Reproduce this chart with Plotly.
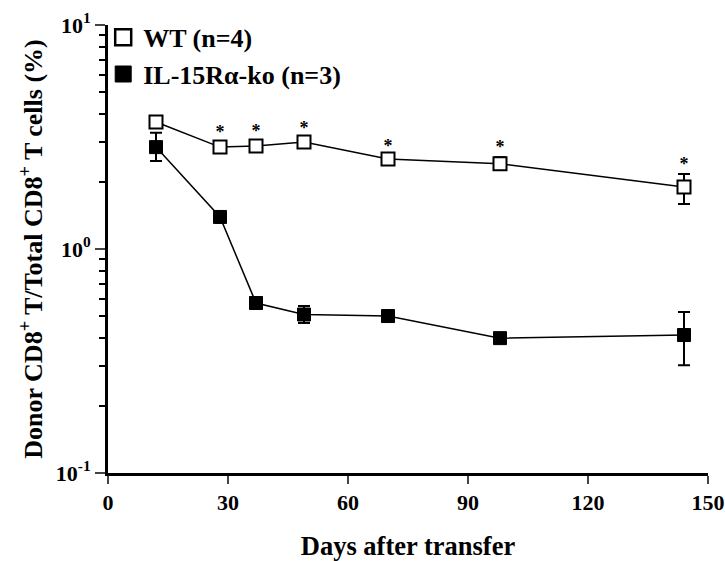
import plotly.graph_objects as go

days = [12, 28, 37, 49, 70, 98, 144]
wt_mean = [3.69, 2.85, 2.88, 3.00, 2.52, 2.40, 1.89]
wt_err_up = [0.12, 0.13, 0.13, 0.10, 0.08, 0.17, 0.27]
wt_err_dn = [0.12, 0.13, 0.13, 0.10, 0.08, 0.15, 0.30]
ko_mean = [2.85, 1.39, 0.574, 0.51, 0.502, 0.40, 0.413]
ko_err_up = [0.45, 0.05, 0.02, 0.046, 0.02, 0.02, 0.11]
ko_err_dn = [0.38, 0.05, 0.02, 0.043, 0.02, 0.02, 0.11]
sig = ["", "*", "*", "*", "*", "*", "*"]

x_ticks = [0, 30, 60, 90, 120, 150]
y_ticks = [0.1, 1, 10]
y_tick_text = ["10<sup>-1</sup>", "10<sup>0</sup>", "10<sup>1</sup>"]

wt_name = "WT (n=4)"
ko_name = "IL-15Rα-ko (n=3)"

FONT = "Liberation Serif"

fig = go.Figure()

fig.add_trace(go.Scatter(
    x=days, y=wt_mean, mode="lines+markers", showlegend=False,
    line=dict(color="black", width=1.5),
    marker=dict(symbol="square", size=13, color="white", line=dict(color="black", width=2)),
    error_y=dict(type="data", array=wt_err_up, arrayminus=wt_err_dn, color="black", thickness=2, width=6),
))
fig.add_trace(go.Scatter(
    x=days, y=ko_mean, mode="lines+markers", showlegend=False,
    line=dict(color="black", width=1.5),
    marker=dict(symbol="square", size=13, color="black", line=dict(color="black", width=1)),
    error_y=dict(type="data", array=ko_err_up, arrayminus=ko_err_dn, color="black", thickness=2, width=6),
))
# significance markers
fig.add_trace(go.Scatter(
    x=days, y=[m + e for m, e in zip(wt_mean, wt_err_up)], mode="text",
    text=["<b>" + s + "</b>" for s in sig],
    textposition="top center", showlegend=False,
    textfont=dict(family=FONT, size=18, color="#000000"),
))
# legend entries
fig.add_trace(go.Scatter(
    x=[None], y=[None], mode="markers", name="<b>" + wt_name + "</b>",
    marker=dict(symbol="square", size=16, color="white", line=dict(color="black", width=2.5)),
))
fig.add_trace(go.Scatter(
    x=[None], y=[None], mode="markers", name="<b>" + ko_name + "</b>",
    marker=dict(symbol="square", size=16, color="black", line=dict(color="black", width=1)),
))

minor_vals = [m * 10 ** d for d in (-1, 0) for m in range(2, 10)]

fig.update_layout(
    width=725, height=561,
    margin=dict(l=108, r=17, t=25, b=88),
    plot_bgcolor="white", paper_bgcolor="white",
    font=dict(family=FONT, color="black"),
    showlegend=True,
    legend=dict(x=-0.008, y=1.025, xanchor="left", yanchor="top", bgcolor="rgba(0,0,0,0)",
                font=dict(family=FONT, size=26, color="black"),
                itemwidth=30, tracegroupgap=0),
    xaxis=dict(
        range=[0, 150], tickvals=x_ticks, ticktext=["<b>%d</b>" % v for v in x_ticks],
        ticks="outside", ticklen=8, tickwidth=2, showline=True, linewidth=3, linecolor="black",
        showgrid=False, zeroline=False, automargin=False,
        tickfont=dict(family=FONT, size=22, color="black", weight="bold"),
        title=dict(text="<b>Days after transfer</b>", standoff=25,
                   font=dict(family=FONT, size=26.5, color="black")),
    ),
    yaxis=dict(
        type="log", range=[-1, 1],
        tickvals=y_ticks, ticktext=["<b>" + t + "</b>" for t in y_tick_text],
        ticks="outside", ticklen=10, tickwidth=2, showline=True, linewidth=3, linecolor="black",
        showgrid=False, zeroline=False, automargin=False,
        minor=dict(tickvals=minor_vals, ticks="outside", ticklen=6, tickwidth=2, tickcolor="black", showgrid=False),
        tickfont=dict(family=FONT, size=22, color="black", weight="bold"),
        title=dict(text="<b>Donor CD8<sup>+</sup> T/Total CD8<sup>+</sup> T cells (%)</b>", standoff=6,
                   font=dict(family=FONT, size=26, color="black")),
    ),
)

fig.write_html("out.html")
